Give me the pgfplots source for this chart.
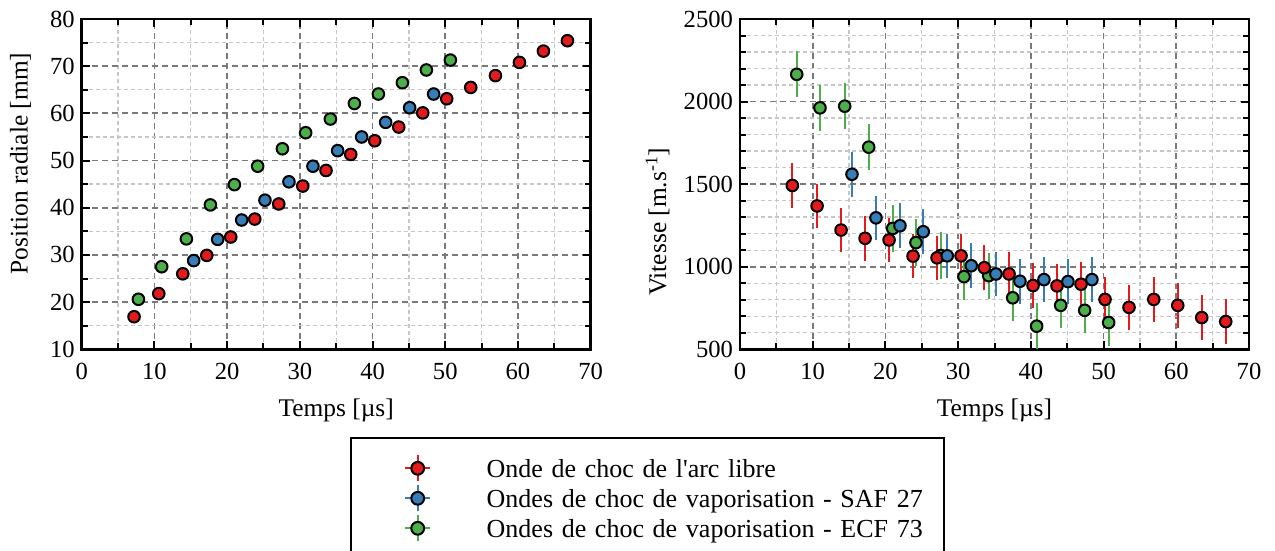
\documentclass[border=0pt]{standalone}
\usepackage{fontspec}
\setmainfont{Liberation Serif}
\newfontfamily\legfont{Liberation Serif}
\usepackage{pgfplots}
\usepackage{pgfplotstable}
\pgfplotsset{compat=1.18}
\definecolor{cR}{HTML}{E41A1C}
\definecolor{cB}{HTML}{377EB8}
\definecolor{cG}{HTML}{4DAF4A}

\pgfplotstableread{
x y
7.2 16.9
10.6 21.8
13.9 26.0
17.2 29.9
20.5 33.8
23.8 37.6
27.1 40.8
30.4 44.6
33.6 47.9
37.0 51.3
40.3 54.2
43.6 57.1
46.9 60.1
50.2 63.1
53.5 65.5
56.9 68.0
60.2 70.8
63.5 73.2
66.8 75.4
}\posR
\pgfplotstableread{
x y
15.4 28.8
18.7 33.3
22.0 37.4
25.2 41.6
28.5 45.5
31.8 48.8
35.2 52.1
38.5 55.0
41.8 58.1
45.1 61.2
48.4 64.1
}\posB
\pgfplotstableread{
x y
7.8 20.6
11.0 27.5
14.4 33.4
17.7 40.6
21.0 44.9
24.2 48.8
27.6 52.5
30.8 55.9
34.2 58.8
37.5 62.1
40.8 64.1
44.1 66.5
47.4 69.2
50.7 71.3
}\posG
\pgfplotstableread{
x y e
7.2 1492 135
10.6 1368 135
13.9 1222 135
17.2 1172 135
20.5 1162 135
23.8 1064 135
27.1 1054 135
30.4 1066 135
33.6 994 135
37.0 956 135
40.3 886 135
43.6 884 135
46.9 894 135
50.2 802 135
53.5 754 135
56.9 802 135
60.2 766 135
63.5 692 135
66.8 668 135
}\vitR
\pgfplotstableread{
x y e
15.4 1560 135
18.7 1296 135
22.0 1248 135
25.2 1212 135
28.5 1066 135
31.8 1006 135
35.2 956 135
38.5 912 135
41.8 922 135
45.1 910 135
48.4 922 135
}\vitB
\pgfplotstableread{
x y e
7.8 2165 140
11.0 1962 140
14.4 1972 140
17.7 1724 140
21.0 1232 140
24.2 1146 140
27.6 1068 140
30.8 940 140
34.2 946 140
37.5 812 140
40.8 640 140
44.1 766 140
47.4 736 140
50.7 662 140
}\vitG

\pgfplotsset{
  myaxis/.style={
    scale only axis, width=254.5pt, height=165.15pt,
    anchor=south west,
    xmin=0, xmax=70, xtick={0,10,...,70}, minor x tick num=1,
    tick align=inside, major tick length=4pt, minor tick length=3pt,
    every tick/.append style={black, line width=1pt},
    axis line style={line width=1.3pt},
    grid=both,
    major grid style={dash pattern=on 3pt off 2pt, color=black!52, line width=0.9pt},
    minor grid style={dash pattern=on 2pt off 1.5pt, color=black!22, line width=0.7pt},
    tick label style={font=\fontsize{12.3}{14}\selectfont},
    label style={font=\fontsize{12.7}{15}\selectfont},
    /pgf/number format/assume math mode=true,
    /pgf/number format/1000 sep={},
    xticklabel style={yshift=-3.3pt},
    xlabel style={at={([yshift=-33.5pt]axis description cs:0.5,0)}, anchor=base},
  },
  mk/.style={only marks, mark=*, mark size=2.9pt,
    mark options={fill=#1, draw=black, line width=1pt, solid}},
  eb/.style={error bars/.cd, y dir=both, y explicit, error mark=none,
    error bar style={#1, line width=1pt}, /pgfplots/.cd},
}

\begin{document}
\begin{tikzpicture}[font=\fontsize{12.5}{15}\selectfont]
\useasboundingbox (0,0) rectangle (637.5pt,275.5pt);

\begin{axis}[myaxis, at={(40.85pt,100.85pt)},
  ymin=10, ymax=80, ytick={10,20,...,80}, minor y tick num=1,
  xlabel={Temps [µs]},
  ylabel={Position radiale [mm]},
  ylabel style={at={([xshift=-30.6pt]axis description cs:0,0.5625)}, anchor=center},
]
\addplot[mk=cG] table[x=x,y=y] {\posG};
\addplot[mk=cR] table[x=x,y=y] {\posR};
\addplot[mk=cB] table[x=x,y=y] {\posB};
\end{axis}

\begin{axis}[myaxis, at={(370pt,100.85pt)},
  ymin=500, ymax=2500, ytick={500,1000,...,2500}, minor y tick num=4,
  xlabel={Temps [µs]},
  ylabel={Vitesse [m.s\textsuperscript{-1}]},
  ylabel style={at={([xshift=-41.25pt]axis description cs:0,0.386)}, anchor=center},
  legend style={at={(axis description cs:-0.76621,-0.26643)}, anchor=north west,
    draw=black, line width=1pt, inner xsep=0pt, inner ysep=9.5pt,
    /tikz/column sep=0pt, /tikz/row sep=0pt,
    font=\legfont\fontsize{13}{15}\selectfont,
    nodes={inner xsep=0pt, inner ysep=0pt, text height=10pt, text depth=5pt,
      text width=228.65pt, align=left}},
  legend cell align=left,
]
\addlegendimage{legend image code/.code={
  \path[draw=none, fill=none] (0pt,-1pt) rectangle (67.85pt,1pt);
  \draw[overlay, cR, line width=1pt] (27pt,2pt) -- (39.7pt,2pt);
  \draw[overlay, cR, line width=1pt] (33.35pt,-4.5pt) -- (33.35pt,8.5pt);
  \fill[overlay, cR, draw=black, line width=1pt] (33.35pt,2pt) circle (3.2pt);
}}
\addlegendentry{Onde de choc de l'arc libre}
\addlegendimage{legend image code/.code={
  \path[draw=none, fill=none] (0pt,-1pt) rectangle (67.85pt,1pt);
  \draw[overlay, cB, line width=1pt] (27pt,2pt) -- (39.7pt,2pt);
  \draw[overlay, cB, line width=1pt] (33.35pt,-4.5pt) -- (33.35pt,8.5pt);
  \fill[overlay, cB, draw=black, line width=1pt] (33.35pt,2pt) circle (3.2pt);
}}
\addlegendentry{Ondes de choc de vaporisation - SAF 27}
\addlegendimage{legend image code/.code={
  \path[draw=none, fill=none] (0pt,-1pt) rectangle (67.85pt,1pt);
  \draw[overlay, cG, line width=1pt] (27pt,2pt) -- (39.7pt,2pt);
  \draw[overlay, cG, line width=1pt] (33.35pt,-4.5pt) -- (33.35pt,8.5pt);
  \fill[overlay, cG, draw=black, line width=1pt] (33.35pt,2pt) circle (3.2pt);
}}
\addlegendentry{Ondes de choc de vaporisation - ECF 73}
\addplot[forget plot, mk=cG, eb=cG] table[x=x,y=y,y error=e] {\vitG};
\addplot[forget plot, mk=cR, eb=cR] table[x=x,y=y,y error=e] {\vitR};
\addplot[forget plot, mk=cB, eb=cB] table[x=x,y=y,y error=e] {\vitB};
\end{axis}
\end{tikzpicture}
\end{document}
